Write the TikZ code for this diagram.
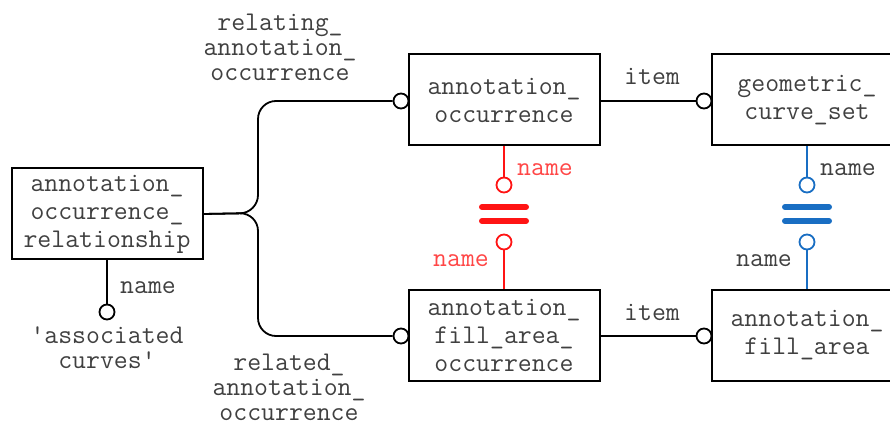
\documentclass[tikz,border=0pt]{standalone}
\newcommand\erfont{\fontsize{27}{28}\selectfont\ttfamily}
\newcommand\lblfont{\fontsize{27}{25}\selectfont\ttfamily}
\definecolor{ered}{RGB}{255,20,20}
\definecolor{eredtext}{RGB}{255,70,70}
\definecolor{eblue}{RGB}{25,110,195}
\tikzset{
  entity/.style={draw, line width=2pt, minimum width=191pt, minimum height=91pt,
    inner sep=0pt, align=center, font=\erfont, text=black!75},
  ring/.style={circle, draw, line width=1.8pt, fill=white, minimum size=15pt, inner sep=0pt},
  lbl/.style={align=center, font=\lblfont, text=black!75, inner sep=0pt},
  conn/.style={line width=1.8pt},
  eqbar/.style={line width=6pt, line cap=round}
}
\begin{document}
\begin{tikzpicture}[x=1pt, y=-1pt]
  \useasboundingbox (0,0) rectangle (890,427);
  \draw
    (107,214) node[entity] (aor){annotation\_\\occurrence\_\\relationship}
    (504,100) node[entity] (ao){annotation\_\\occurrence}
    (807,100) node[entity] (gcs){geometric\_\\curve\_set}
    (504,335) node[entity] (afao){annotation\_\\fill\_area\_\\occurrence}
    (807,335) node[entity] (afa){annotation\_\\fill\_area};
  \draw
    (401,101) node[ring] (r1){}
    (401,336) node[ring] (r2){}
    (704,101) node[ring] (r3){}
    (704,336) node[ring] (r4){}
    (107,312) node[ring] (r5){}
    (504,185) node[ring, draw=ered] (r6){}
    (504,242) node[ring, draw=ered] (r7){}
    (807,185) node[ring, draw=eblue] (r8){}
    (807,242) node[ring, draw=eblue] (r9){};
  \begin{scope}[conn]
    \draw[rounded corners=18pt] (aor.east) -- (258,213) |- (r1);
    \draw[rounded corners=18pt] (aor.east) -- (258,213) |- (r2);
    \draw (ao.east |- r3) -- (r3);
    \draw (afao.east |- r4) -- (r4);
    \draw (aor.south) -- (r5);
    \draw[ered] (ao.south) -- (r6);
    \draw[ered] (r7) -- (afao.north);
    \draw[eblue] (gcs.south) -- (r8);
    \draw[eblue] (r9) -- (afa.north);
  \end{scope}
  \draw[eqbar, ered] (482,207) -- (526,207) (482,221) -- (526,221);
  \draw[eqbar, eblue] (785,207) -- (829,207) (785,221) -- (829,221);
  \node[lbl] (relating) at (280,47) {relating\_\\annotation\_\\occurrence};
  \node[lbl] (related) at (289,387) {related\_\\annotation\_\\occurrence};
  \node[lbl] (item1) at (652,76) {item};
  \node[lbl] (item2) at (652,312) {item};
  \node[lbl] (aorname) at (148,288) {name};
  \node[lbl] (value) at (107,348) {\textquotesingle associated\\curves\textquotesingle};
  \node[lbl, text=eredtext] (aoname) at (545,170) {name};
  \node[lbl, text=eredtext] (afaoname) at (461,261) {name};
  \node[lbl] (gcsname) at (848,170) {name};
  \node[lbl] (afaname) at (764,261) {name};
\end{tikzpicture}
\end{document}
